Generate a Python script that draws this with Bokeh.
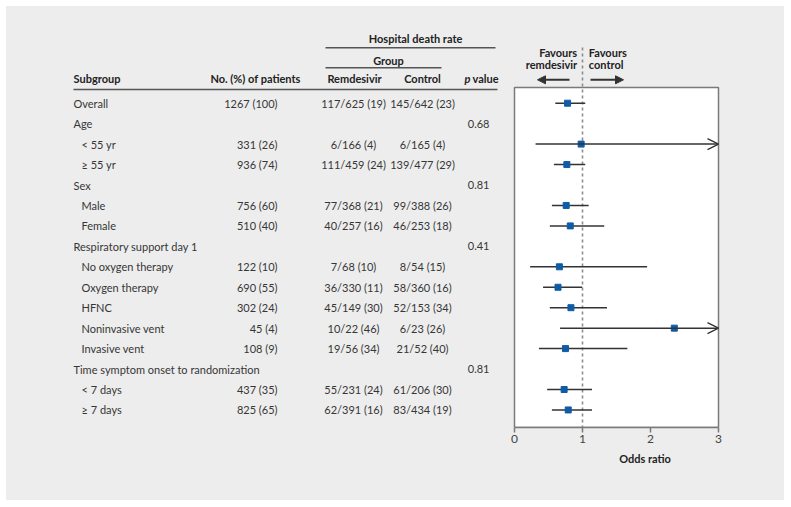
import numpy as np
from bokeh.plotting import figure
from bokeh.models import Range1d, ColumnDataSource, FixedTicker, Arrow, OpenHead, NormalHead
from bokeh.layouts import row
from bokeh.core.properties import value
from bokeh.embed import file_html
from bokeh.resources import INLINE

# ---------------- data ----------------
subgroups = ["Overall", "Age", "< 55 yr", "≥ 55 yr", "Sex", "Male", "Female",
             "Respiratory support day 1", "No oxygen therapy", "Oxygen therapy", "HFNC",
             "Noninvasive vent", "Invasive vent", "Time symptom onset to randomization",
             "< 7 days", "≥ 7 days"]
levels = [0, 0, 1, 1, 0, 1, 1, 0, 1, 1, 1, 1, 1, 0, 1, 1]
n_patients = ["1267 (100)", "", "331 (26)", "936 (74)", "", "756 (60)", "510 (40)", "",
              "122 (10)", "690 (55)", "302 (24)", "45 (4)", "108 (9)", "", "437 (35)", "825 (65)"]
remdesivir = ["117/625 (19)", "", "6/166 (4)", "111/459 (24)", "", "77/368 (21)", "40/257 (16)", "",
              "7/68 (10)", "36/330 (11)", "45/149 (30)", "10/22 (46)", "19/56 (34)", "",
              "55/231 (24)", "62/391 (16)"]
control = ["145/642 (23)", "", "6/165 (4)", "139/477 (29)", "", "99/388 (26)", "46/253 (18)", "",
           "8/54 (15)", "58/360 (16)", "52/153 (34)", "6/23 (26)", "21/52 (40)", "",
           "61/206 (30)", "83/434 (19)"]
p_values = ["", "0.68", "", "", "0.81", "", "", "0.41", "", "", "", "", "", "0.81", "", ""]
nan = float("nan")
odds_ratio = [0.78, nan, 0.98, 0.77, nan, 0.76, 0.82, nan, 0.66, 0.64, 0.83, 2.35, 0.75, nan, 0.73, 0.79]
ci_low = [0.60, nan, 0.31, 0.58, nan, 0.55, 0.52, nan, 0.23, 0.42, 0.52, 0.67, 0.36, nan, 0.48, 0.55]
ci_high = [1.04, nan, 3.10, 1.04, nan, 1.09, 1.32, nan, 1.95, 0.995, 1.36, 8.2, 1.66, nan, 1.14, 1.14]
x_ticks = [0, 1, 2, 3]
x_max = 3

# ---------------- layout helpers ----------------
FONT = "Lato"
FS = "11px"
TXT = "#363636"
HC = "#222222"
GRAY_BG = "#ededed"
PITCH = 20.45
Y0 = 102.7
ORIGIN = 6            # page pixel where the panel starts
SPLIT = 505           # page x where table ends and forest begins
RIGHT_EDGE = 784
BOTTOM_EDGE = 500
FRAME_BOTTOM = 427
H = BOTTOM_EDGE - ORIGIN


def py(pix):
    return (pix - Y0) / PITCH


y_start = py(FRAME_BOTTOM)
y_end = py(ORIGIN)
yr = Range1d(start=y_start, end=y_end)

rows_idx = list(range(len(subgroups)))

common = dict(height=H, y_range=yr, output_backend="svg", toolbar_location=None,
              min_border_left=0, min_border_right=0, min_border_top=0,
              min_border_bottom=BOTTOM_EDGE - FRAME_BOTTOM,
              background_fill_color=None, border_fill_color=None, outline_line_color=None)

# ---------------- left: table ----------------
left = figure(width=SPLIT - ORIGIN, x_range=Range1d(ORIGIN, SPLIT), x_axis_type=None, y_axis_type=None, **common)


def txt(fig, x, y, text, align="left", bold=False, italic=False, size=FS, color=TXT):
    style = "bold italic" if (bold and italic) else ("bold" if bold else ("italic" if italic else "normal"))
    fig.text(x=x, y=y, text=text, text_align=align, text_baseline="middle",
             text_font=value(FONT), text_font_size=value(size), text_color=color,
             text_font_style=style)


src = ColumnDataSource(dict(
    y=rows_idx,
    xs=[73 + 8 * lv for lv in levels],
    sub=subgroups, n=n_patients, r=remdesivir, c=control, p=p_values))

for col, xpos, align in [("n", 277, "right"), ("r", 353, "center"), ("c", 422, "center"), ("p", 489, "right")]:
    left.text(x=xpos, y="y", text=col, source=src, text_align=align, text_baseline="middle",
              text_font=value(FONT), text_font_size=value(FS), text_color=TXT)
left.text(x="xs", y="y", text="sub", source=src, text_align="left", text_baseline="middle",
          text_font=value(FONT), text_font_size=value(FS), text_color=TXT)

# header
txt(left, [415], [py(38)], ["Hospital death rate"], "center", bold=True, color=HC)
txt(left, [388], [py(59.5)], ["Group"], "center", bold=True, color=HC)
hy = py(78)
txt(left, [73], [hy], ["Subgroup"], "left", bold=True, color=HC)
txt(left, [255], [hy], ["No. (%) of patients"], "center", bold=True, color=HC)
txt(left, [354], [hy], ["Remdesivir"], "center", bold=True, color=HC)
txt(left, [422], [hy], ["Control"], "center", bold=True, color=HC)
txt(left, [464], [hy], ["p"], "left", bold=True, italic=True, color=HC)
txt(left, [472], [hy], ["value"], "left", bold=True, color=HC)

left.segment(x0=[325, 325, 73], y0=[py(47.3), py(67.3), py(89)],
             x1=[495, 441, 497], y1=[py(47.3), py(67.3), py(89)],
             line_color="#555555", line_width=1.4)

# ---------------- right: forest ----------------
PX_PER_UNIT = 68.0
X_ZERO_PX = 514
x0 = (SPLIT - X_ZERO_PX) / PX_PER_UNIT
x1 = (RIGHT_EDGE - X_ZERO_PX) / PX_PER_UNIT
right = figure(width=RIGHT_EDGE - SPLIT, x_range=Range1d(x0, x1), y_axis_type=None, **common)
right.grid.visible = False

right.quad(left=[0], right=[x_max], top=[py(87)], bottom=[y_start],
           fill_color="white", line_color="#7a7a7a", line_width=1.5)
right.segment(x0=[1], y0=[py(47)], x1=[1], y1=[y_start], line_dash="3 3",
              line_color="#8c8c8c", line_width=1.6)

lo = np.array(ci_low); hi = np.array(ci_high); est = np.array(odds_ratio)
yy = np.array(rows_idx, dtype=float)
valid = ~np.isnan(est)
normal = valid & (hi <= x_max)
over = valid & (hi > x_max)

right.segment(x0=lo[normal], y0=yy[normal], x1=hi[normal], y1=yy[normal],
              line_color="#333333", line_width=1.5)
over_src = ColumnDataSource(dict(lo=lo[over], hi=np.minimum(hi[over], x_max), y=yy[over]))
right.add_layout(Arrow(x_start="lo", y_start="y", x_end="hi", y_end="y", source=over_src,
                       line_color="#333333", line_width=1.5,
                       end=OpenHead(size=11, line_color="#333333", line_width=1.3)))
right.scatter(x=est[valid], y=yy[valid], marker="square", size=6,
              fill_color="#0f5ca6", line_color="#0f5ca6")


def px2x(p):
    return (p - X_ZERO_PX) / PX_PER_UNIT


# favours header
fx_l = px2x(576.7)
fx_r = px2x(588.3)
txt(right, [fx_l, fx_l], [py(51.7), py(64.3)], ["Favours", "remdesivir"], "right", bold=True, color=HC)
txt(right, [fx_r, fx_r], [py(51.7), py(64.3)], ["Favours", "control"], "left", bold=True, color=HC)
ay = py(79.3)
right.add_layout(Arrow(x_start=px2x(569), y_start=ay, x_end=px2x(537), y_end=ay,
                       line_color="#333333", line_width=2,
                       end=NormalHead(size=8, fill_color="#333333", line_color="#333333")))
right.add_layout(Arrow(x_start=px2x(590), y_start=ay, x_end=px2x(623), y_end=ay,
                       line_color="#333333", line_width=2,
                       end=NormalHead(size=8, fill_color="#333333", line_color="#333333")))

ax = right.xaxis[0]
ax.bounds = (0, x_max)
ax.ticker = FixedTicker(ticks=x_ticks)
ax.minor_tick_line_color = None
ax.major_tick_in = 0
ax.major_tick_out = 5
ax.axis_line_color = "#7a7a7a"
ax.axis_line_width = 1.5
ax.major_tick_line_color = "#7a7a7a"
ax.major_tick_line_width = 1.5
ax.major_label_text_font = FONT
ax.major_label_text_font_size = "12px"
ax.major_label_text_color = "#444444"
ax.major_label_standoff = 2
ax.axis_label = "Odds ratio"
ax.axis_label_text_font = FONT
ax.axis_label_text_font_size = FS
ax.axis_label_text_font_style = "bold"
ax.axis_label_text_color = HC
ax.axis_label_standoff = 6

layout = row(left, right, spacing=0, margin=(ORIGIN, 0, 0, ORIGIN),
             styles={"background-color": GRAY_BG})
open("out.html", "w").write(file_html(layout, INLINE))
